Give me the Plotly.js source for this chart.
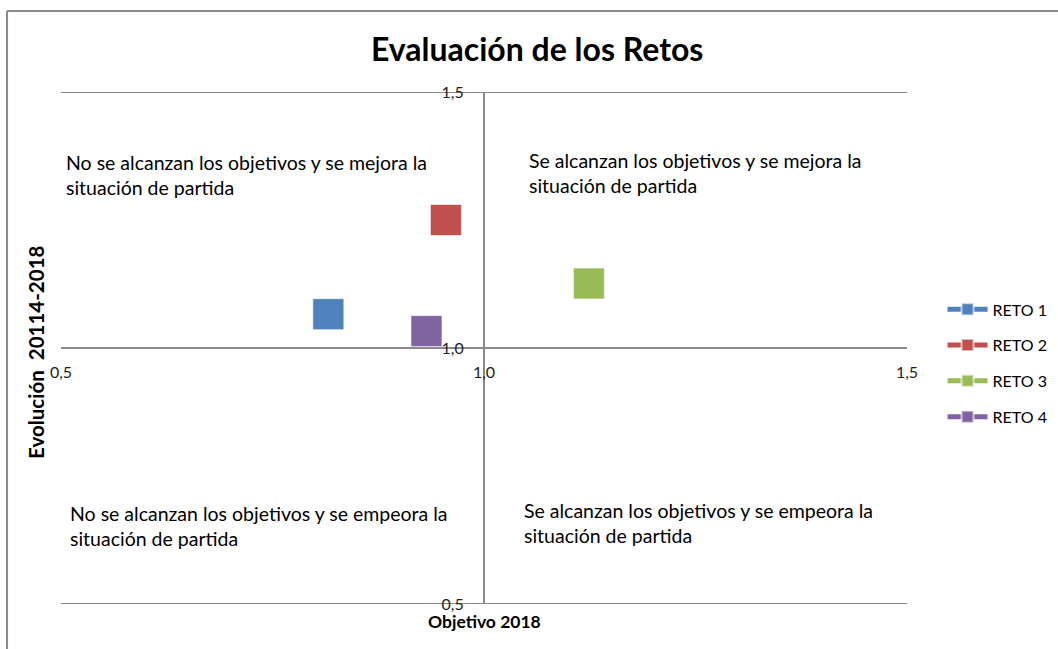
<!DOCTYPE html>
<html>
<head>
<meta charset="utf-8">
<script src="https://cdn.plot.ly/plotly-3.0.1.min.js"></script>
<style>
html,body{margin:0;padding:0;background:#fff;}
#chart{width:1058px;height:649px;}
</style>
</head>
<body>
<div id="chart"></div>
<script>
const seriesNames = ["RETO 1", "RETO 2", "RETO 3", "RETO 4"];
const objetivo2018 = [0.816, 0.955, 1.124, 0.932];
const evolucion = [1.066, 1.250, 1.126, 1.033];
const seriesColors = ["#4F81BD", "#C0504D", "#9BBB59", "#8064A2"];
const tickValues = [0.5, 1.0, 1.5];
const tickLabels = ["0,5", "1,0", "1,5"];
const gridValues = [0.5, 1.5];
const chartTitle = "Evaluación de los Retos";
const xTitle = "Objetivo 2018";
const yTitle = "Evolución  20114-2018";
const quadrantTexts = [
  "No se alcanzan los objetivos y se mejora la<br>situación de partida",
  "Se alcanzan los objetivos y se mejora la<br>situación de partida",
  "No se alcanzan los objetivos y se empeora la<br>situación de partida",
  "Se alcanzan los objetivos y se empeora la<br>situación de partida"
];

const FONT = "Lato, 'Open Sans', sans-serif";

const traces = seriesNames.map((name, i) => ({
  type: "scatter",
  mode: "lines+markers",
  name: name,
  legendgroup: name,
  x: [objetivo2018[i]],
  y: [evolucion[i]],
  marker: {symbol: "square", size: 31, color: seriesColors[i],
           line: {color: "rgba(255,255,255,0.6)", width: 1}},
  line: {color: seriesColors[i], width: 4},
  cliponaxis: false
}));

const gridShapes = gridValues.map(v => ({
  type: "line", xref: "paper", yref: "y", x0: 0, x1: 1, y0: v, y1: v,
  line: {color: "#8a8a8a", width: 2}, layer: "below"
}));

const layout = {
  width: 1058, height: 649,
  margin: {l: 61, r: 151, t: 92, b: 45, autoexpand: false},
  paper_bgcolor: "#fff", plot_bgcolor: "#fff",
  font: {family: FONT, color: "#000"},
  showlegend: true,
  legend: {x: 1.042, xanchor: "left", y: 0.47, yanchor: "middle",
           font: {size: 16, family: FONT, color: "#000"},
           tracegroupgap: 12, itemsizing: "constant", itemwidth: 40},
  xaxis: {range: [0.5, 1.5], anchor: "free", position: 0.5, automargin: false,
          showline: true, linecolor: "#8a8a8a", linewidth: 2,
          showgrid: false, zeroline: false,
          tickmode: "array", tickvals: tickValues, ticktext: tickLabels,
          ticks: "", ticklabelstandoff: 10,
          tickfont: {size: 16, color: "#222"}},
  yaxis: {range: [0.5, 1.5], anchor: "free", position: 0.5, automargin: false,
          showline: true, linecolor: "#8a8a8a", linewidth: 2,
          showgrid: false, zeroline: false,
          tickmode: "array", tickvals: tickValues, ticktext: tickLabels,
          ticks: "", ticklabelstandoff: 16,
          tickfont: {size: 16, color: "#222"}},
  shapes: gridShapes.concat([
    {type: "line", xref: "paper", yref: "paper", x0: -0.0638, x1: -0.0638, y0: -0.2, y1: 1.158,
     line: {color: "#8a8a8a", width: 2}},
    {type: "line", xref: "paper", yref: "paper", x0: -0.0638, x1: 1.3, y0: 1.158, y1: 1.158,
     line: {color: "#8a8a8a", width: 2}}
  ]),
  annotations: [
    {text: "<b>" + chartTitle + "</b>", xref: "paper", yref: "paper",
     x: (537 - 61) / 846, y: (604 - 48) / 512, xanchor: "center", yanchor: "middle",
     showarrow: false, font: {size: 32, family: FONT, color: "#000"}},
    {text: "<b>" + xTitle + "</b>", xref: "paper", yref: "paper",
     x: (484 - 61) / 846, y: (604 - 621) / 512, xanchor: "center", yanchor: "middle",
     showarrow: false, font: {size: 17.5, family: FONT, color: "#000"}},
    {text: "<b>" + yTitle + "</b>", xref: "paper", yref: "paper", textangle: -90,
     x: (36 - 61) / 846, y: (604 - 352) / 512, xanchor: "center", yanchor: "middle",
     showarrow: false, font: {size: 20.5, family: FONT, color: "#000"}},
    {text: quadrantTexts[0], xref: "paper", yref: "paper", align: "left",
     x: (64 - 61) / 846, y: (604 - 175) / 512, xanchor: "left", yanchor: "middle",
     showarrow: false, font: {size: 19.5, family: FONT, color: "#000"}},
    {text: quadrantTexts[1], xref: "paper", yref: "paper", align: "left",
     x: (527 - 61) / 846, y: (604 - 173) / 512, xanchor: "left", yanchor: "middle",
     showarrow: false, font: {size: 19.5, family: FONT, color: "#000"}},
    {text: quadrantTexts[2], xref: "paper", yref: "paper", align: "left",
     x: (68 - 61) / 846, y: (604 - 526) / 512, xanchor: "left", yanchor: "middle",
     showarrow: false, font: {size: 19.5, family: FONT, color: "#000"}},
    {text: quadrantTexts[3], xref: "paper", yref: "paper", align: "left",
     x: (522 - 61) / 846, y: (604 - 523) / 512, xanchor: "left", yanchor: "middle",
     showarrow: false, font: {size: 19.5, family: FONT, color: "#000"}}
  ]
};

Plotly.newPlot("chart", traces, layout, {displayModeBar: false, staticPlot: true});
</script>
</body>
</html>
